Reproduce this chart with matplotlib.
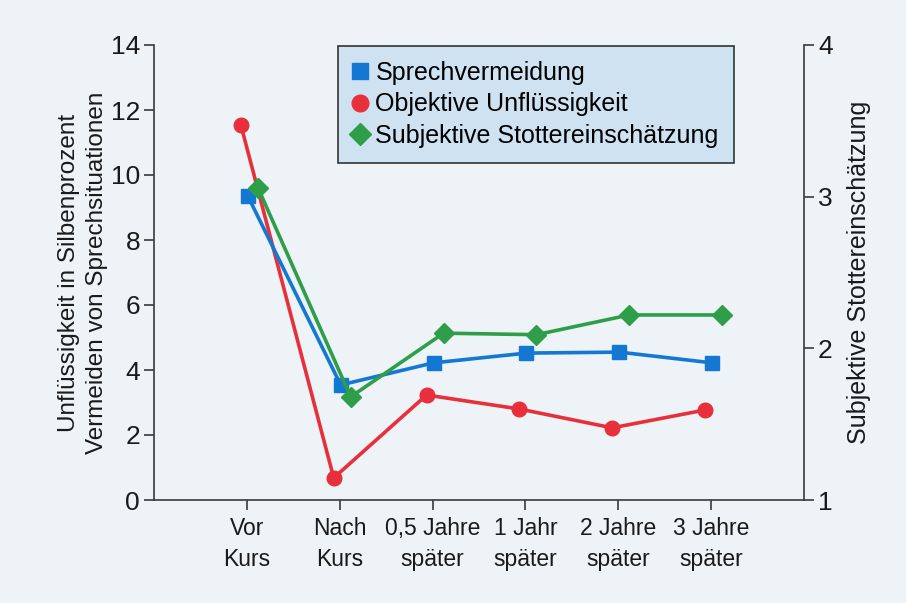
import matplotlib
matplotlib.use("Agg")
import matplotlib.pyplot as plt
from matplotlib.lines import Line2D
from matplotlib.transforms import offset_copy

plt.rcParams['font.family'] = ['Liberation Sans', 'DejaVu Sans']

categories = ["Vor\nKurs", "Nach\nKurs", "0,5 Jahre\nspäter", "1 Jahr\nspäter", "2 Jahre\nspäter", "3 Jahre\nspäter"]
sprechvermeidung = [9.35, 3.54, 4.22, 4.52, 4.55, 4.22]
objektive = [11.54, 0.68, 3.23, 2.80, 2.22, 2.77]
subjektive = [3.06, 1.68, 2.10, 2.09, 2.22, 2.22]
left_ticks = [0, 2, 4, 6, 8, 10, 12, 14]
right_ticks = [1, 2, 3, 4]

BLUE = '#1478d2'
RED = '#e8303c'
GREEN = '#2e9e48'
AX = '#3a3a3a'
BG = '#edf3f7'

fig = plt.figure(figsize=(9.06, 6.03), dpi=100, facecolor=BG)
ax = fig.add_axes([154/906, 1-500/603, 650/906, 455/603])
ax.set_facecolor(BG)
ax2 = ax.twinx()

x = list(range(len(categories)))

tb = offset_copy(ax.transData, fig=fig, x=1, y=0, units='dots')
tr = offset_copy(ax.transData, fig=fig, x=-6, y=0, units='dots')
tg = offset_copy(ax2.transData, fig=fig, x=11, y=0, units='dots')

ax.plot(x, objektive, color=RED, lw=2.6, marker='o', ms=10.5, transform=tr, zorder=3)
ax.plot(x, sprechvermeidung, color=BLUE, lw=2.6, marker='s', ms=10.5, transform=tb, zorder=4)
ax2.plot(x, subjektive, color=GREEN, lw=2.6, marker='D', ms=10.5, transform=tg, zorder=5)

ax.set_xlim(-1, 6)
ax.set_ylim(0, 14)
ax2.set_ylim(1, 4)
ax.set_yticks(left_ticks)
ax2.set_yticks(right_ticks)
ax.set_xticks(x)
ax.set_xticklabels(categories, fontsize=16.5, linespacing=1.45)

for a in (ax, ax2):
    a.spines['top'].set_visible(False)
    for s in a.spines.values():
        s.set_color(AX)
        s.set_linewidth(1.2)
    a.tick_params(colors=AX, labelcolor='#1a1a1a', labelsize=19, width=1.2, length=7, direction='out')
ax.spines['right'].set_visible(False)
ax2.spines['left'].set_visible(False)
ax2.spines['bottom'].set_visible(False)
ax.tick_params(axis='x', pad=5, labelsize=16.5)
ax.tick_params(axis='y', pad=3)
ax2.tick_params(axis='y', pad=3)

ax.set_ylabel("Unflüssigkeit in Silbenprozent\nVermeiden von Sprechsituationen",
              fontsize=17.5, color='#1a1a1a', linespacing=1.35, labelpad=2)
ax2.set_ylabel("Subjektive Stottereinschätzung", fontsize=18, color='#1a1a1a', labelpad=10)

handles = [
    Line2D([], [], ls='none', marker='s', ms=12, color=BLUE, label='Sprechvermeidung'),
    Line2D([], [], ls='none', marker='o', ms=12, color=RED, label='Objektive Unflüssigkeit'),
    Line2D([], [], ls='none', marker='D', ms=11, color=GREEN, label='Subjektive Stottereinschätzung'),
]
leg = ax2.legend(handles=handles, loc='upper left', bbox_to_anchor=(0.283, 0.998),
                 borderaxespad=0, prop={'family': 'Liberation Sans', 'size': 18},
                 frameon=True, fancybox=False,
                 handlelength=0.6, handletextpad=0.3, labelspacing=0.3,
                 borderpad=0.6)
fr = leg.get_frame()
fr.set_facecolor('#cfe2f2')
fr.set_edgecolor('#333333')
fr.set_linewidth(1.2)
fr.set_alpha(1)

fig.savefig('out.png', dpi=100, facecolor=BG)
